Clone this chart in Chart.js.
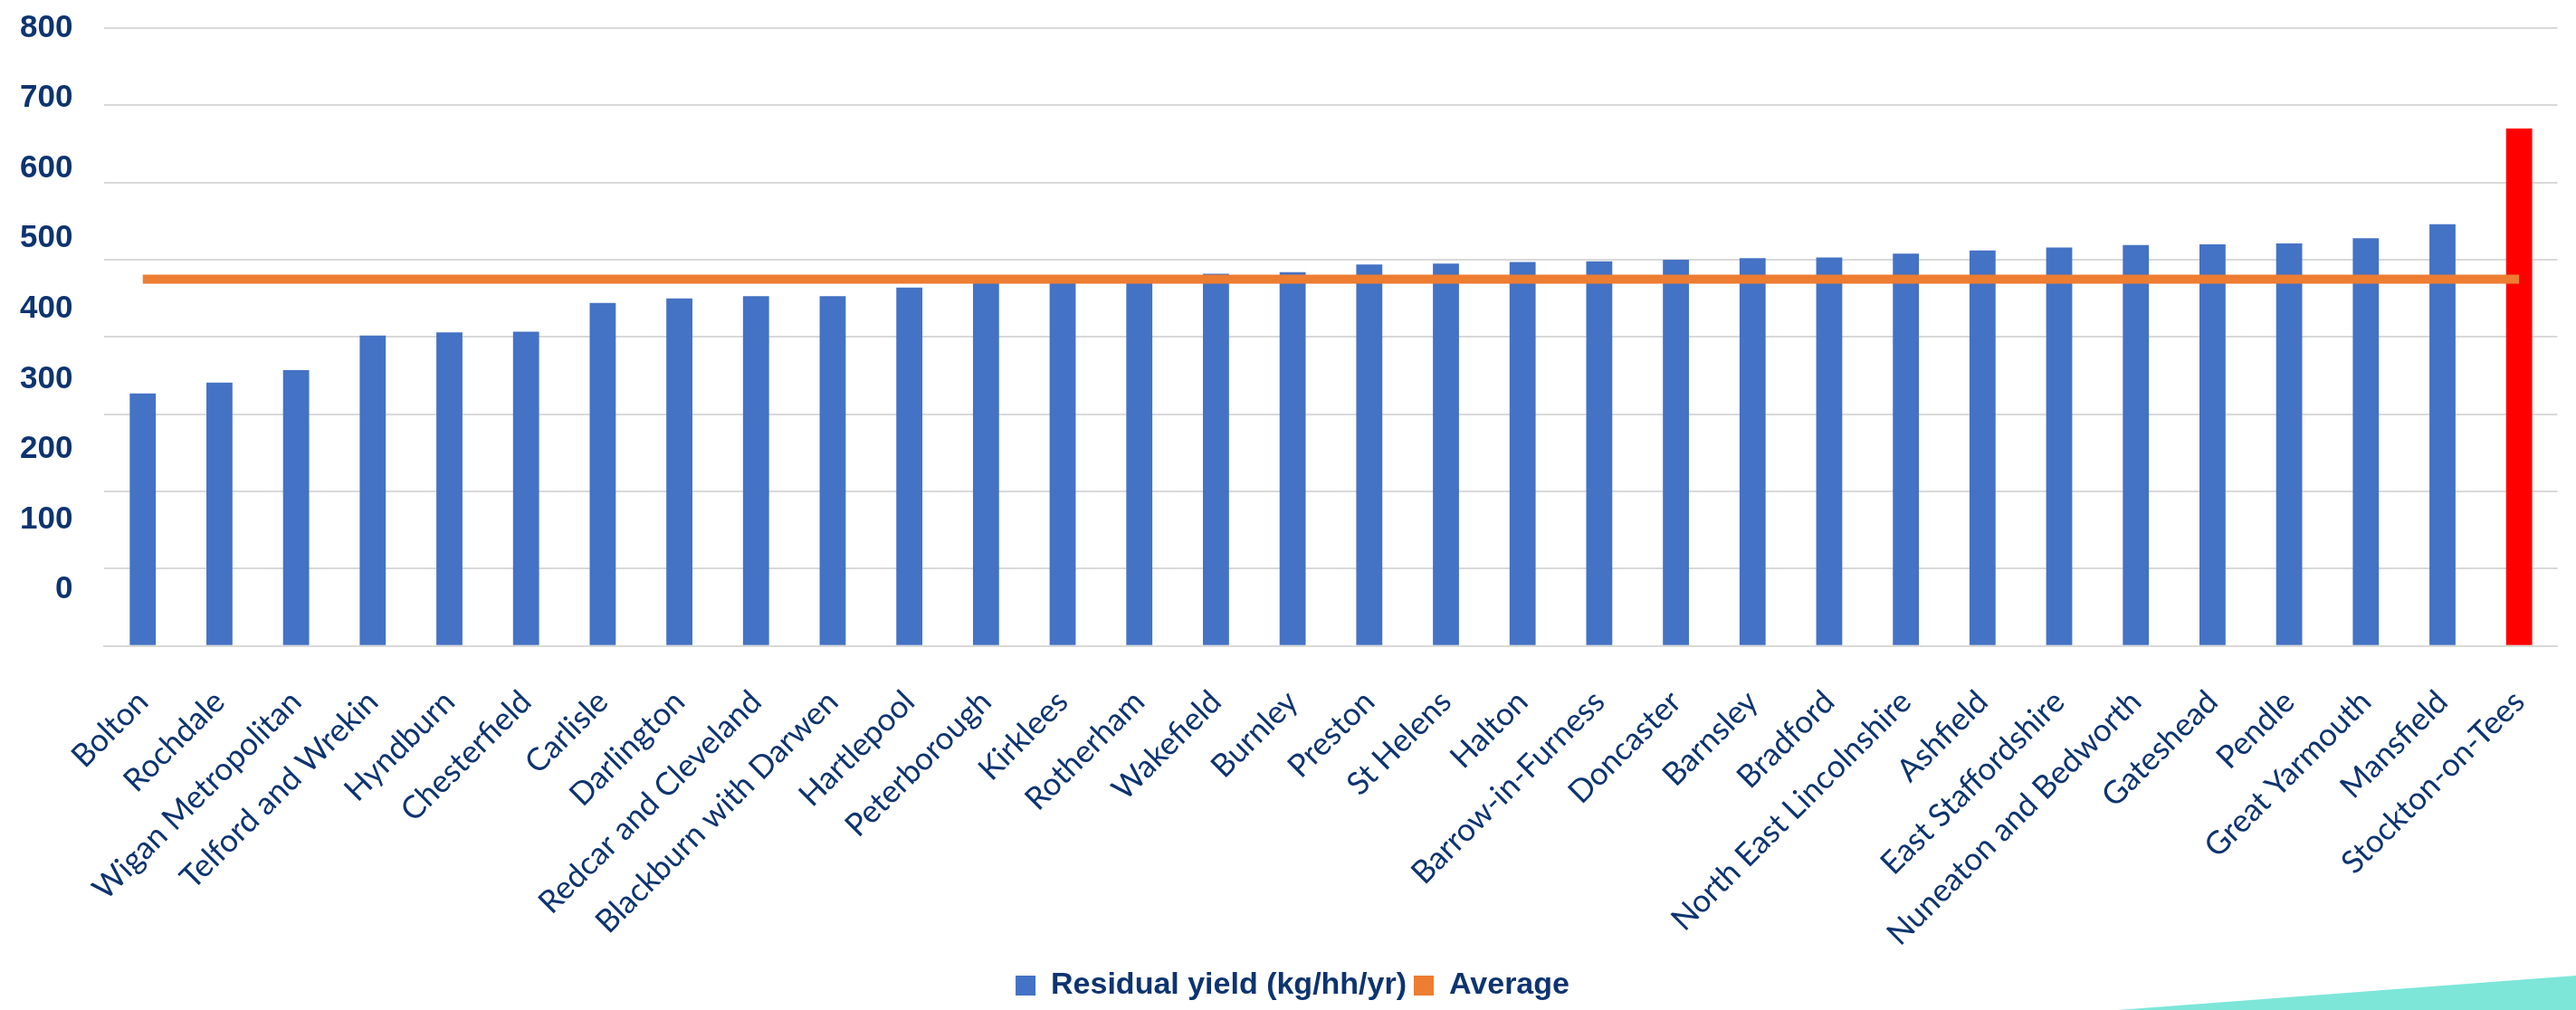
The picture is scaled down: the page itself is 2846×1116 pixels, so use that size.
<!DOCTYPE html>
<html>
<head>
<meta charset="utf-8">
<script src="https://cdn.jsdelivr.net/npm/chart.js@4.4.1/dist/chart.umd.min.js"></script>
<style>
  html, body { margin: 0; padding: 0; background: #fff; }
  #wrap { position: relative; width: 2846px; height: 1116px; overflow: hidden; }
  #myChart { display: block; width: 2846px; height: 1116px; }
  #swoosh {
    position: absolute; left: 0; top: 0; width: 2846px; height: 1116px;
    background: #7de6d9;
    clip-path: polygon(2340px 1116px, 2846px 1078px, 2846px 1116px);
  }
</style>
</head>
<body>
<div id="wrap">
  <canvas id="myChart" width="2846" height="1116"></canvas>
  <div id="swoosh"></div>
</div>
<script>
const authorities = [
    'Bolton', 'Rochdale', 'Wigan Metropolitan', 'Telford and Wrekin', 'Hyndburn',
    'Chesterfield', 'Carlisle', 'Darlington', 'Redcar and Cleveland', 'Blackburn with Darwen',
    'Hartlepool', 'Peterborough', 'Kirklees', 'Rotherham', 'Wakefield', 'Burnley',
    'Preston', 'St Helens', 'Halton', 'Barrow-in-Furness', 'Doncaster', 'Barnsley',
    'Bradford', 'North East Lincolnshire', 'Ashfield', 'East Staffordshire',
    'Nuneaton and Bedworth', 'Gateshead', 'Pendle', 'Great Yarmouth', 'Mansfield',
    'Stockton-on-Tees'
];

// residual yield, kg per household per year
const residualYield = [
    327, 341, 357, 402, 406, 407, 444, 450, 453, 453,
    464, 476, 477, 478, 482, 484, 494, 495, 497, 498,
    500, 502, 503, 508, 512, 516, 519, 520, 521, 528,
    546, 670
];

const average = [
    475, 475, 475, 475, 475, 475, 475, 475, 475, 475,
    475, 475, 475, 475, 475, 475, 475, 475, 475, 475,
    475, 475, 475, 475, 475, 475, 475, 475, 475, 475,
    475, 475
];

const highlighted = 'Stockton-on-Tees';

const navy = '#0d3470';

const barColors = authorities.map(name => name === highlighted ? '#ff0000' : '#4472c4');

const ctx = document.getElementById('myChart').getContext('2d');
const chart = new Chart(ctx, {
    type: 'bar',
    data: {
        labels: authorities,
        datasets: [{
            label: 'Residual yield (kg/hh/yr)',
            data: residualYield,
            backgroundColor: barColors,
            categoryPercentage: 1,
            barPercentage: 0.34,
            order: 2
        }, {
            type: 'line',
            label: 'Average',
            data: average,
            borderColor: '#ed7d31',
            backgroundColor: '#ed7d31',
            borderWidth: 10,
            pointRadius: 0,
            order: 1
        }]
    },
    options: {
        responsive: false,
        animation: false,
        devicePixelRatio: 1,
        layout: { padding: { left: 18, right: 8, top: 31, bottom: 0 } },
        scales: {
            x: {
                grid: { display: false },
                border: { color: '#d9d9d9', width: 2 },
                ticks: {
                    color: navy,
                    font: { family: 'Lato', size: 35 },
                    minRotation: 45,
                    maxRotation: 45,
                    autoSkip: false,
                    padding: 33
                },
                afterFit: scale => { scale.height -= 22; }
            },
            // value axis: carries the gridlines, sits next to the plot
            y: {
                position: 'left',
                weight: 0,
                min: 0,
                max: 800,
                ticks: { display: false, stepSize: 100 },
                grid: { color: '#d9d9d9', lineWidth: 2, drawTicks: false },
                border: { display: false },
                afterFit: scale => { scale.width = 23; }
            },
            // label axis: the picture's tick labels sit a little above their gridlines
            yLabels: {
                position: 'left',
                weight: 1,
                min: -80,
                max: 800,
                grid: { display: false },
                border: { display: false },
                afterBuildTicks: axis => {
                    axis.ticks = axis.ticks.filter(t => t.value >= 0);
                },
                ticks: {
                    stepSize: 100,
                    color: navy,
                    padding: 4,
                    font: { family: 'Liberation Sans', size: 35, weight: 'bold' }
                }
            }
        },
        plugins: {
            legend: {
                position: 'bottom',
                labels: {
                    color: navy,
                    font: { family: 'Liberation Sans', size: 34, weight: 'bold' },
                    boxWidth: 22,
                    boxHeight: 22,
                    padding: 8,
                    sort: (a, b) => a.datasetIndex - b.datasetIndex,
                    generateLabels: c => Chart.defaults.plugins.legend.labels.generateLabels(c).map(item => {
                        item.lineWidth = 0;
                        item.fillStyle = item.datasetIndex === 0 ? '#4472c4' : '#ed7d31';
                        return item;
                    })
                }
            },
            tooltip: { enabled: false }
        }
    }
});
</script>
</body>
</html>
